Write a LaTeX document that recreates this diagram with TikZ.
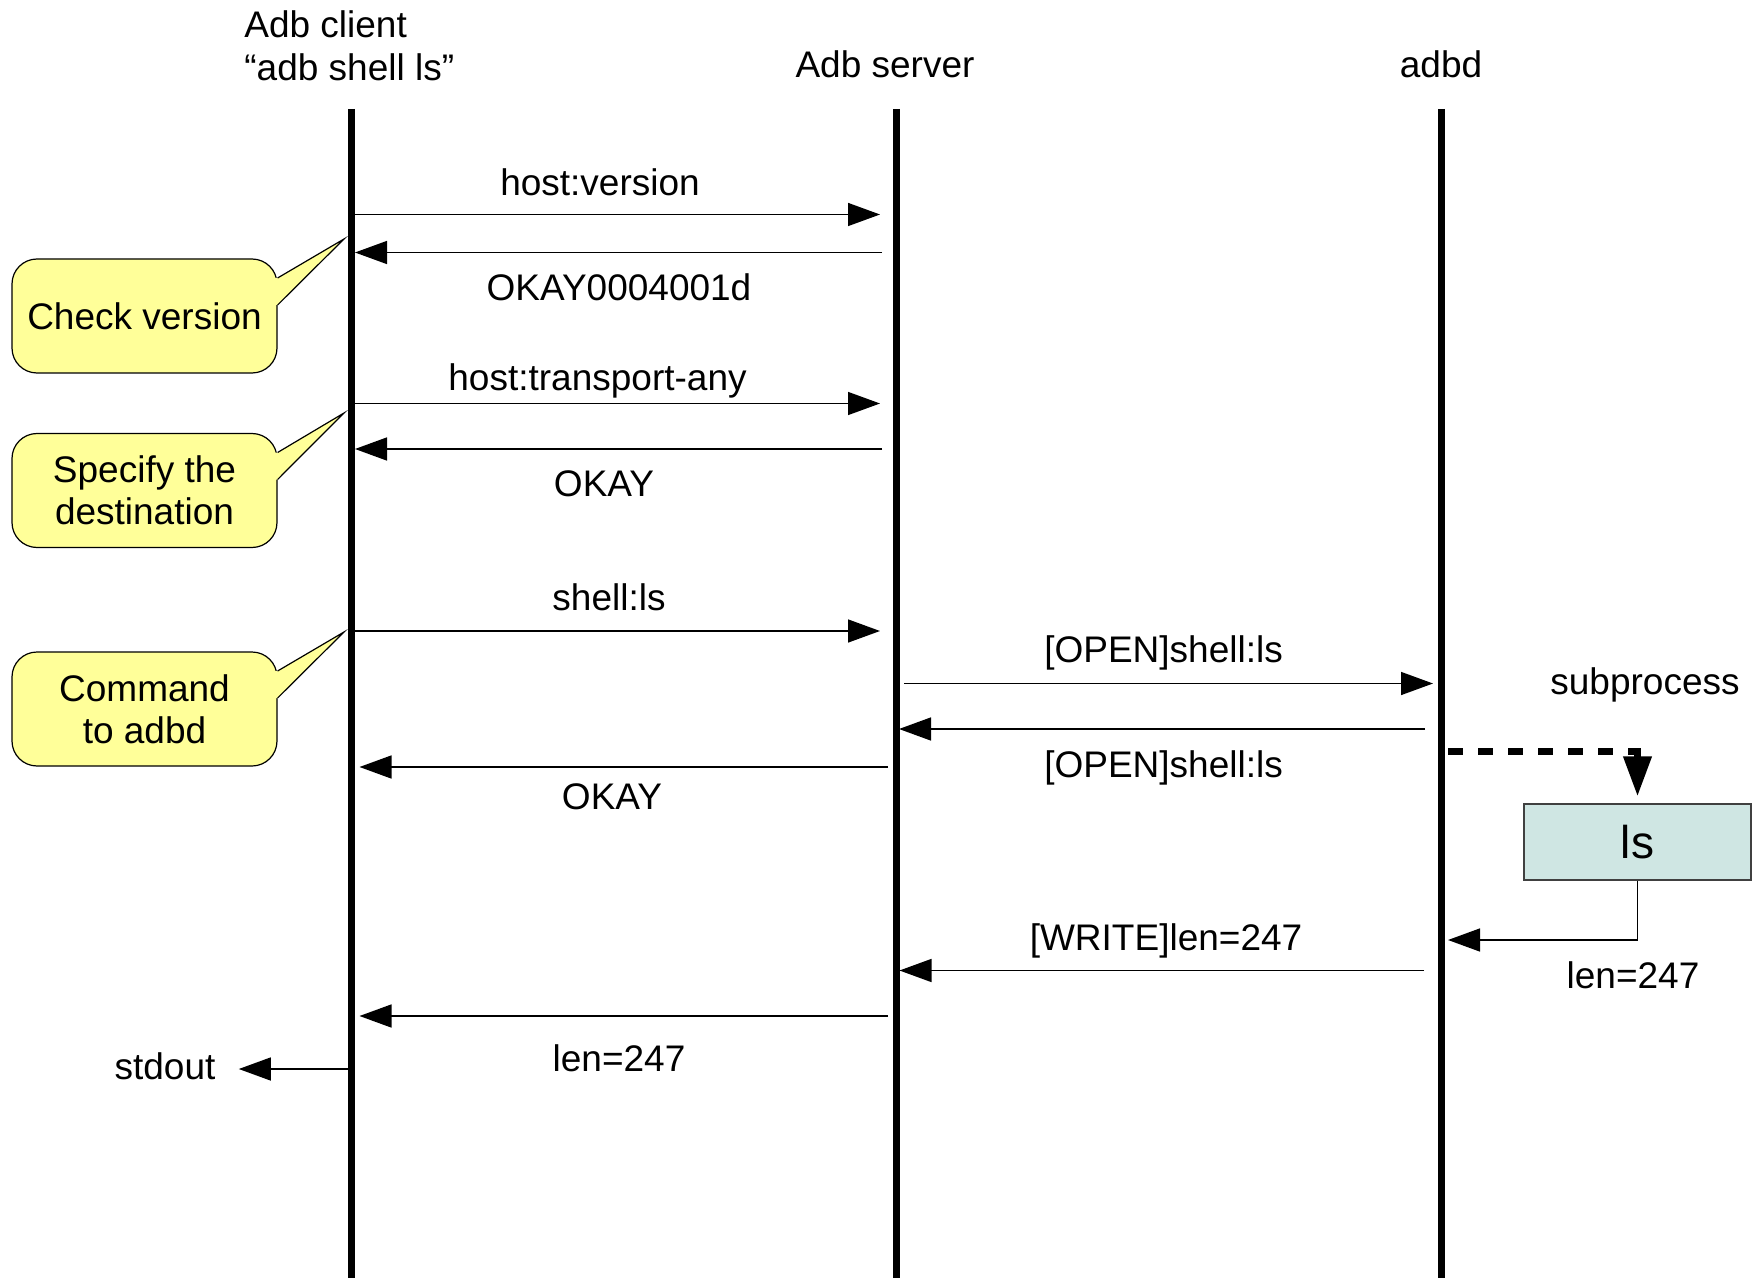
\documentclass[tikz,border=0pt]{standalone}
\usepackage{fontspec}
\setmainfont{Liberation Sans}
\usetikzlibrary{arrows.meta,calc}
\definecolor{callfill}{HTML}{FFFF99}
\definecolor{procfill}{HTML}{CFE6E3}

\begin{document}
\begin{tikzpicture}[x=0.5pt,y=-0.5pt,
  lbl/.style={font=\fontsize{18.5}{21.4}\selectfont, inner sep=0pt},
  lifeline/.style={line width=3.5pt},
  msg/.style={line width=0.75pt, -{Triangle[length=16pt,width=11.5pt]}},
  callbody/.style={draw=black, line width=0.6pt, fill=callfill, rounded corners=12.5pt,
    minimum width=132.5pt, minimum height=57pt, align=center,
    font=\fontsize{18.5}{21}\selectfont, inner sep=0pt},
  procbox/.style={draw=black!75, line width=0.6pt, fill=procfill,
    minimum width=113.5pt, minimum height=38pt, inner sep=0pt,
    font=\fontsize{23}{26}\selectfont},
  spawn/.style={line width=3.5pt, dash pattern=on 7.5pt off 7.5pt,
    -{Triangle[length=20pt,width=13.5pt]}},
]
\useasboundingbox (0,0) rectangle (1761,1278);

% participants
\node[lbl, align=left, anchor=west] (client) at (244,46) {Adb client\\“adb shell ls”};
\node[lbl] (server) at (885,64) {Adb server};
\node[lbl] (adbd) at (1441,64) {adbd};

% lifelines
\coordinate (clTop) at (351.5,109);  \coordinate (clBot) at (351.5,1278);
\coordinate (svTop) at (896,109);    \coordinate (svBot) at (896,1278);
\coordinate (adTop) at (1441,109);   \coordinate (adBot) at (1441,1278);
\draw[lifeline] (clTop) -- (clBot);
\draw[lifeline] (svTop) -- (svBot);
\draw[lifeline] (adTop) -- (adBot);

% message end points
\coordinate (m1a) at (355,214.5);  \coordinate (m1b) at (880,214.5);
\coordinate (m2a) at (882,252.5);  \coordinate (m2b) at (355,252.5);
\coordinate (m3a) at (355,403.5);  \coordinate (m3b) at (880,403.5);
\coordinate (m4a) at (882,449);    \coordinate (m4b) at (355,449);
\coordinate (m5a) at (355,631);    \coordinate (m5b) at (880,631);
\coordinate (m6a) at (904,683.5);  \coordinate (m6b) at (1433,683.5);
\coordinate (m7a) at (1425,729);   \coordinate (m7b) at (899,729);
\coordinate (m8a) at (888,767);    \coordinate (m8b) at (359.5,767);
\coordinate (m9a) at (1424,970.5); \coordinate (m9b) at (899.5,970.5);
\coordinate (m10a) at (888,1016);  \coordinate (m10b) at (359.5,1016);
\coordinate (outA) at (348,1069);

% messages
\draw[msg] (m1a) -- (m1b);
\node[lbl] (l1) at (600,182) {host:version};
\draw[msg] (m2a) -- (m2b);
\node[lbl] (l2) at (619,287.5) {OKAY0004001d};
\draw[msg] (m3a) -- (m3b);
\node[lbl] (l3) at (597.5,380.5) {host:transport-any};
\draw[msg] (m4a) -- (m4b);
\node[lbl] (l4) at (604,484) {OKAY};
\draw[msg] (m5a) -- (m5b);
\node[lbl] (l5) at (609,597.5) {shell:ls};
\draw[msg] (m6a) -- (m6b);
\node[lbl] (l6) at (1163.5,653) {[OPEN]shell:ls};
\draw[msg] (m7a) -- (m7b);
\node[lbl] (l7) at (1163.5,768) {[OPEN]shell:ls};
\draw[msg] (m8a) -- (m8b);
\node[lbl] (l8) at (612,797) {OKAY};
\draw[msg] (m9a) -- (m9b);
\node[lbl] (l9) at (1166,941) {[WRITE]len=247};
\draw[msg] (m10a) -- (m10b);
\node[lbl] (l10) at (619,1058) {len=247};

% output to the terminal
\node[lbl] (stdout) at (165,1066) {stdout};
\draw[msg, shorten >=11.5pt] (outA) -- (stdout.east |- outA);

% subprocess started by adbd
\node[lbl] (subp) at (1645,685) {subprocess};
\node[procbox] (ls) at (1637.5,842) {ls};
\coordinate (spA) at (1448,751);
\draw[spawn, shorten >=3.5pt] (spA) -| (ls.north);
\coordinate (lsOut) at (1448,940);
\draw[msg] (ls.south) |- (lsOut);
\node[lbl] (l11) at (1633,975) {len=247};

% callouts: rounded body plus a pointer wedge toward the client lifeline
\newcommand{\wedgeptr}[2]{%
  \fill[callfill] ($(#1.east)+(-4,-38)$) -- ($(#1.east)+(0,-38)$) -- (#2)
     -- ($(#1.east)+(0,-11)$) -- ($(#1.east)+(-4,-11)$) -- cycle;
  \draw[line width=0.6pt, line join=miter] ($(#1.east)+(0,-38)$) -- (#2) -- ($(#1.east)+(0,-11)$);}

\node[callbody] (cv) at (144.5,316) {Check version};
\coordinate (cvTip) at (344,239);
\wedgeptr{cv}{cvTip}

\node[callbody] (sd) at (144.5,490.5) {Specify the\\destination};
\coordinate (sdTip) at (344,413);
\wedgeptr{sd}{sdTip}

\node[callbody] (cmd) at (144.5,709) {Command\\to adbd};
\coordinate (cmdTip) at (344,632);
\wedgeptr{cmd}{cmdTip}
\end{tikzpicture}
\end{document}
